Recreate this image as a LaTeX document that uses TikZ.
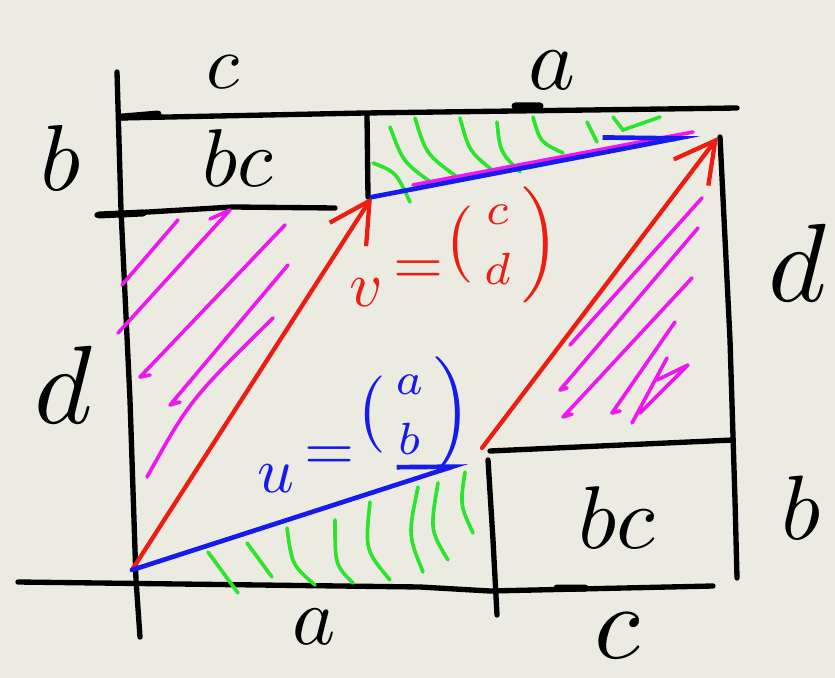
\documentclass[tikz,border=0pt]{standalone}
\usepackage{amsmath}
\usepackage{tikz}
\usetikzlibrary{arrows.meta}

\definecolor{paper}{RGB}{236,235,226}
\definecolor{penred}{RGB}{236,30,20}
\definecolor{penblue}{RGB}{22,26,236}
\definecolor{pengreen}{RGB}{44,228,44}
\definecolor{penpink}{RGB}{238,24,238}

\begin{document}
\begin{tikzpicture}[
  x=0.03cm, y=-0.03cm,
  pen/.style={line width=1.6mm, line cap=round, line join=round, black},
  tick/.style={line width=2.1mm, line cap=round, black},
  hatchpink/.style={line width=1.1mm, line cap=round, line join=round, penpink},
  hatchgreen/.style={line width=1.1mm, line cap=round, pengreen},
  vecred/.style={line width=1.3mm, line cap=round, penred, -{Straight Barb[length=12mm, width=13mm]}},
  vecblue/.style={line width=1.4mm, line cap=round, penblue},
  lbl/.style={inner sep=0pt}
]
  \fill[paper] (0,0) rectangle (835,678);

  \coordinate (O) at (132,570);
  \coordinate (U) at (467,462);
  \coordinate (V) at (372,197);
  \coordinate (P) at (482,448);
  \coordinate (W) at (718,137);
  \coordinate (Wu) at (700,134);

  \draw[pen] (117,72) -- (121,210) -- (130,400) -- (136,580) -- (140,637);
  \draw[pen] (120,118) -- (365,113) -- (737,108);
  \draw[pen] (97,215) -- (233,207) -- (335,208);
  \draw[pen] (367,115) -- (368,197);
  \draw[pen] (720,137) -- (730,340) -- (735,500) -- (737,578);
  \draw[pen] (490,451) -- (600,446) -- (733,440);
  \draw[pen] (488,460) -- (493,540) -- (497,615);
  \draw[pen] (18,582) -- (420,587) -- (490,591) -- (713,586);
  \draw[tick] (122,117) -- (158,114) (99,215) -- (143,213) (515,106) -- (540,106) (557,588) -- (585,588);

  \draw[hatchpink] (122,285) -- (178,220)
    (118,333) -- (230,210) -- (210,219)
    (150,375) -- (140,377) -- (285,225)
    (180,402) -- (170,405) -- (288,265)
    (147,477) .. controls (190,400) .. (273,318);
  \draw[hatchpink] (702,198) -- (570,345)
    (567,388) -- (560,390) -- (698,228)
    (572,414) -- (563,417) -- (692,278)
    (620,411) -- (612,413) -- (675,322)
    (632,423) -- (667,358)
    (657,380) -- (688,365) -- (640,413);
  \draw[hatchgreen] (208,552) -- (238,593)
    (247,543) -- (272,577)
    (287,528) .. controls (292,565) .. (315,585)
    (335,520) .. controls (335,565) .. (353,583)
    (370,502) .. controls (365,550) .. (390,580)
    (418,487) .. controls (408,535) .. (423,572)
    (438,483) .. controls (430,530) .. (448,560)
    (465,472) .. controls (460,505) .. (473,533);
  \draw[hatchgreen] (373,163) .. controls (396,172) .. (410,202)
    (390,127) .. controls (403,162) .. (432,183)
    (415,118) .. controls (426,154) .. (457,177)
    (460,118) .. controls (469,151) .. (492,170)
    (497,122) .. controls (500,152) .. (520,172)
    (533,117) .. controls (540,142) .. (563,153)
    (587,122) -- (597,142)
    (613,117) -- (623,130) -- (660,117);

  \draw[vecred] (O) -- (V);
  \draw[vecred] (P) -- (W);
  \draw[hatchpink] (413,185) -- (693,132);
  \draw[vecblue, -{Straight Barb[harpoon, length=16mm, width=10mm]}] (O) -- (U);
  \draw[vecblue, -{Straight Barb[harpoon, length=22mm, width=9mm]}] (V) -- (Wu);

  \node[lbl, scale=6.5] (cTop) at (223,72) {$c$};
  \node[lbl, scale=7.6] (aTop) at (552,70) {$a$};
  \node[lbl, scale=8] (bLeft) at (61,158) {$b$};
  \node[lbl, scale=7] (bcTop) at (238,158) {$bc$};
  \node[lbl, scale=9.5] (dLeft) at (63,385) {$d$};
  \node[lbl, scale=9.5] (dRight) at (797,263) {$d$};
  \node[lbl, scale=7.6] (bcBot) at (617,518) {$bc$};
  \node[lbl, scale=7.8] (bRight) at (801,508) {$b$};
  \node[lbl, scale=7] (aBot) at (314,627) {$a$};
  \node[lbl, scale=9] (cBot) at (617,636) {$c$};

  \node[lbl, penred, scale=5.5, anchor=base west] (vLabel) at (348,306)
    {$v\,\raisebox{3.4pt}{$=$}\raisebox{7pt}{$\bigl(\begin{smallmatrix}c\\[3pt] d\end{smallmatrix}\Bigr)$}$};
  \node[lbl, penblue, scale=5.5, anchor=base west] (uLabel) at (256,492)
    {$u\,\raisebox{3.3pt}{$=$}\raisebox{9.5pt}{$\bigl(\begin{smallmatrix}a\\[3pt] b\end{smallmatrix}\Bigr)$}$};
\end{tikzpicture}
\end{document}
